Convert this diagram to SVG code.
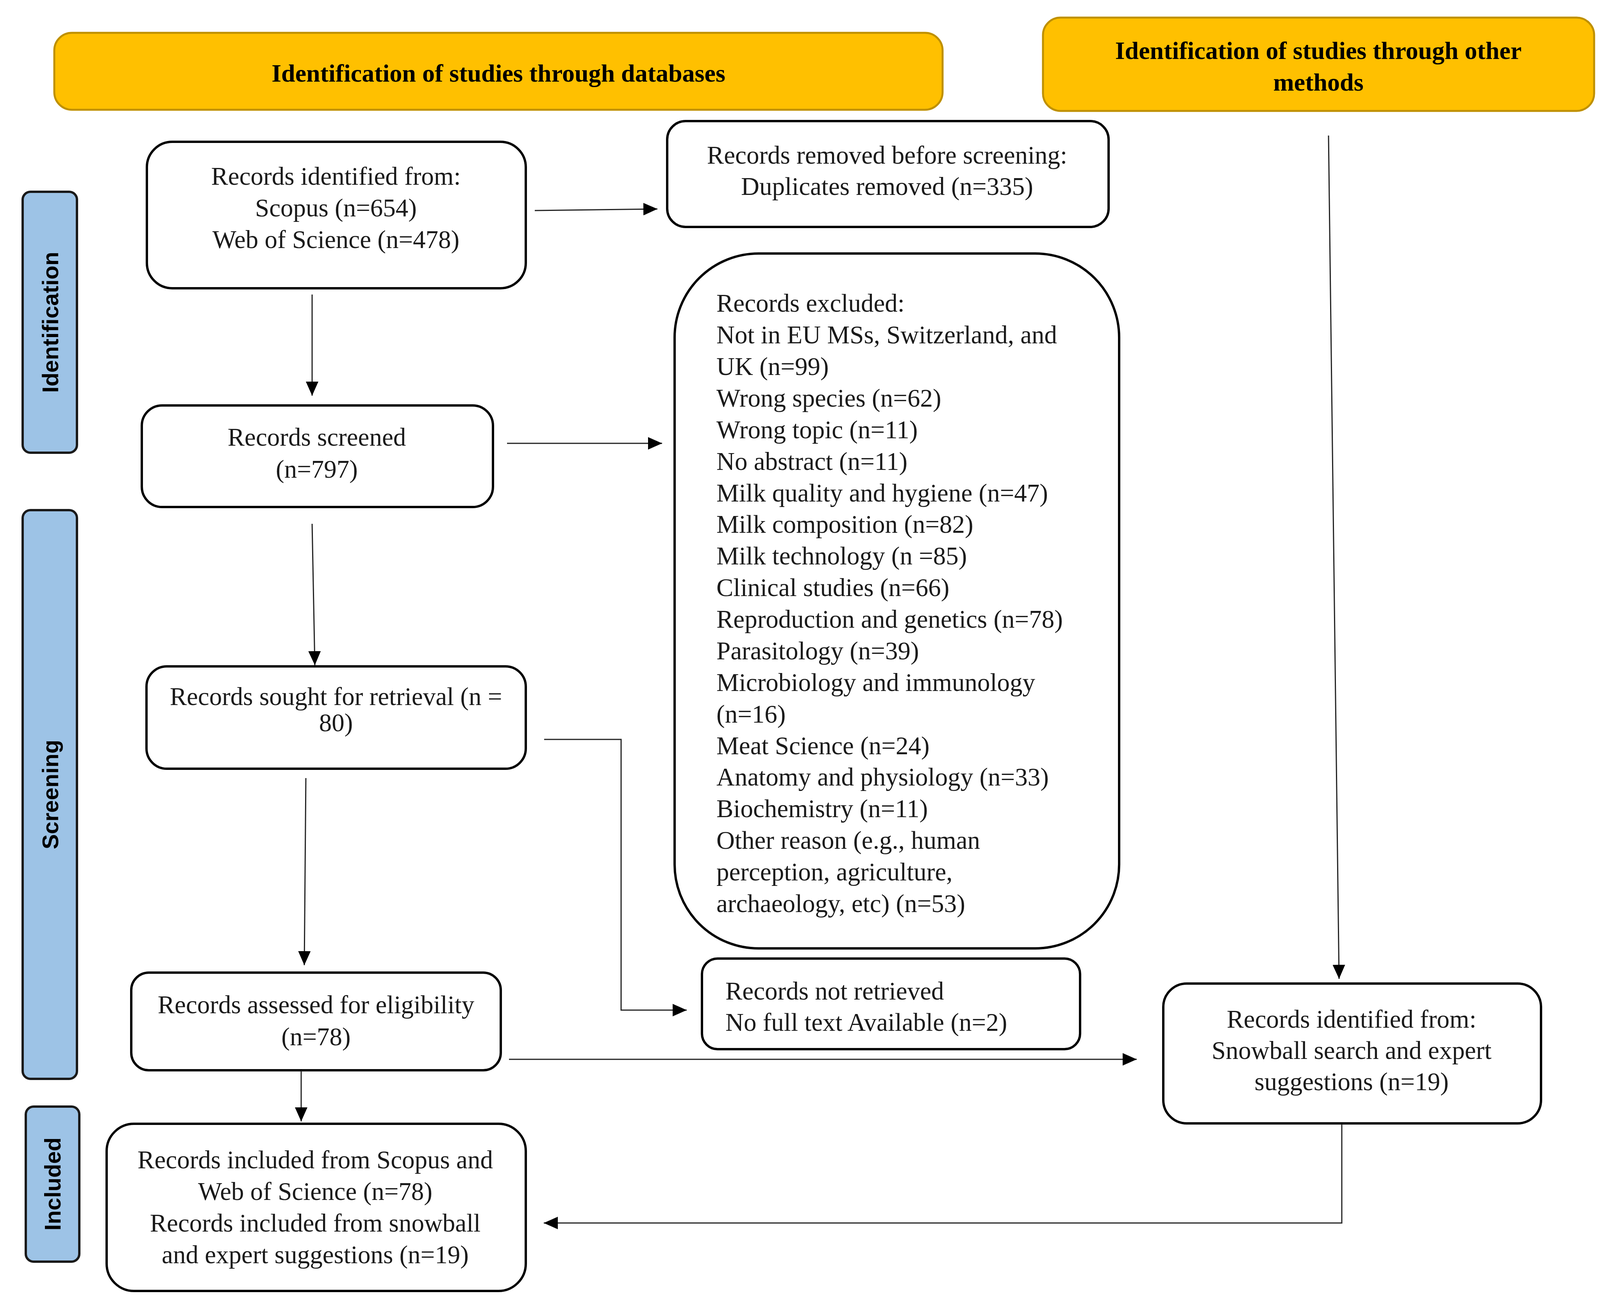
<svg xmlns="http://www.w3.org/2000/svg" width="4121" height="3364" viewBox="0 0 4121 3364">
<style>
.hdr{fill:#FFC000;stroke:#BF9000;stroke-width:5}
.hdrt{font-family:"Liberation Serif",serif;font-weight:bold;font-size:64px;fill:#000;text-anchor:middle}
.box{fill:#fff;stroke:#000;stroke-width:6}
.t{font-family:"Liberation Serif",serif;font-size:65px;fill:#1a1a1a}
.c{text-anchor:middle}
.side{fill:#9DC3E6;stroke:#1a1a1a;stroke-width:6}
.sidet{font-family:"Liberation Sans",Arial,sans-serif;font-weight:bold;font-size:58px;fill:#000;text-anchor:middle}
.con{fill:none;stroke:#222;stroke-width:3;marker-end:url(#ah)}
</style>
<defs>
<marker id="ah" viewBox="0 0 36 32" refX="36" refY="16" markerWidth="36" markerHeight="32" markerUnits="userSpaceOnUse" orient="auto">
<path d="M0,0 L36,16 L0,32 z" fill="#000"/>
</marker>
</defs>
<rect width="4121" height="3364" fill="#fff"/>

<g id="header-databases">
<rect class="hdr" x="139" y="84" width="2274" height="197" rx="45"/>
<text class="hdrt" x="1276" y="209">Identification of studies through databases</text>
</g>
<g id="header-other">
<rect class="hdr" x="2670" y="45" width="1411" height="239" rx="45"/>
<text class="hdrt" x="3375" y="151">Identification of studies through other</text>
<text class="hdrt" x="3375" y="232">methods</text>
</g>

<g id="side-identification">
<rect class="side" x="58" y="491" width="139" height="668" rx="20"/>
<text class="sidet" x="128" y="846" transform="rotate(-90 128 825)">Identification</text>
</g>
<g id="side-screening">
<rect class="side" x="58" y="1306" width="139" height="1456" rx="20"/>
<text class="sidet" x="128" y="2055" transform="rotate(-90 128 2034)">Screening</text>
</g>
<g id="side-included">
<rect class="side" x="66" y="2833" width="137" height="397" rx="20"/>
<text class="sidet" x="134" y="3052" transform="rotate(-90 134 3031)">Included</text>
</g>

<g id="records-identified">
<rect class="box" x="376" y="363" width="970" height="375" rx="65"/>
<text class="t c" x="860" y="473">Records identified from:</text>
<text class="t c" x="860" y="554">Scopus (n=654)</text>
<text class="t c" x="860" y="635">Web of Science (n=478)</text>
</g>
<g id="records-removed">
<rect class="box" x="1708" y="310" width="1130" height="271" rx="47"/>
<text class="t c" x="2271" y="419">Records removed before screening:</text>
<text class="t c" x="2271" y="499">Duplicates removed (n=335)</text>
</g>
<g id="records-screened">
<rect class="box" x="363" y="1038" width="899" height="260" rx="52"/>
<text class="t c" x="811" y="1141">Records screened</text>
<text class="t c" x="811" y="1223">(n=797)</text>
</g>
<g id="records-excluded">
<rect class="box" x="1727" y="649" width="1138" height="1779" rx="215"/>
<text class="t" x="1834" y="798">Records excluded:</text>
<text class="t" x="1834" y="879">Not in EU MSs, Switzerland, and</text>
<text class="t" x="1834" y="960">UK (n=99)</text>
<text class="t" x="1834" y="1041">Wrong species (n=62)</text>
<text class="t" x="1834" y="1122">Wrong topic (n=11)</text>
<text class="t" x="1834" y="1203">No abstract (n=11)</text>
<text class="t" x="1834" y="1284">Milk quality and hygiene (n=47)</text>
<text class="t" x="1834" y="1364">Milk composition (n=82)</text>
<text class="t" x="1834" y="1445">Milk technology (n =85)</text>
<text class="t" x="1834" y="1526">Clinical studies (n=66)</text>
<text class="t" x="1834" y="1607">Reproduction and genetics (n=78)</text>
<text class="t" x="1834" y="1688">Parasitology (n=39)</text>
<text class="t" x="1834" y="1769">Microbiology and immunology</text>
<text class="t" x="1834" y="1850">(n=16)</text>
<text class="t" x="1834" y="1931">Meat Science (n=24)</text>
<text class="t" x="1834" y="2011">Anatomy and physiology (n=33)</text>
<text class="t" x="1834" y="2092">Biochemistry (n=11)</text>
<text class="t" x="1834" y="2173">Other reason (e.g., human</text>
<text class="t" x="1834" y="2254">perception, agriculture,</text>
<text class="t" x="1834" y="2335">archaeology, etc) (n=53)</text>
</g>
<g id="records-sought">
<rect class="box" x="375" y="1706" width="971" height="262" rx="52"/>
<text class="t c" x="860" y="1805">Records sought for retrieval (n =</text>
<text class="t c" x="860" y="1872">80)</text>
</g>
<g id="records-not-retrieved">
<rect class="box" x="1797" y="2454" width="968" height="232" rx="40"/>
<text class="t" x="1857" y="2559">Records not retrieved</text>
<text class="t" x="1857" y="2639">No full text Available (n=2)</text>
</g>
<g id="records-assessed">
<rect class="box" x="336" y="2490" width="946" height="250" rx="45"/>
<text class="t c" x="809" y="2594">Records assessed for eligibility</text>
<text class="t c" x="809" y="2676">(n=78)</text>
</g>
<g id="records-other">
<rect class="box" x="2978" y="2518" width="967" height="358" rx="60"/>
<text class="t c" x="3460" y="2631">Records identified from:</text>
<text class="t c" x="3460" y="2711">Snowball search and expert</text>
<text class="t c" x="3460" y="2791">suggestions (n=19)</text>
</g>
<g id="records-included">
<rect class="box" x="273" y="2877" width="1073" height="428" rx="70"/>
<text class="t c" x="807" y="2991">Records included from Scopus and</text>
<text class="t c" x="807" y="3072">Web of Science (n=78)</text>
<text class="t c" x="807" y="3153">Records included from snowball</text>
<text class="t c" x="807" y="3234">and expert suggestions (n=19)</text>
</g>

<g id="connectors">
<path class="con" d="M1369,539 L1683,535"/>
<path class="con" d="M799,754 L799,1013"/>
<path class="con" d="M1298,1135 L1695,1135"/>
<path class="con" d="M799,1341 L806,1703"/>
<path class="con" d="M1393,1893 H1590 V2586 H1758"/>
<path class="con" d="M783,1992 L779,2471"/>
<path class="con" d="M771,2740 L771,2871"/>
<path class="con" d="M1303,2712 L2910,2712"/>
<path class="con" d="M3401,347 L3428,2506"/>
<path class="con" d="M3435,2878 V3131 H1392"/>
</g>
</svg>
